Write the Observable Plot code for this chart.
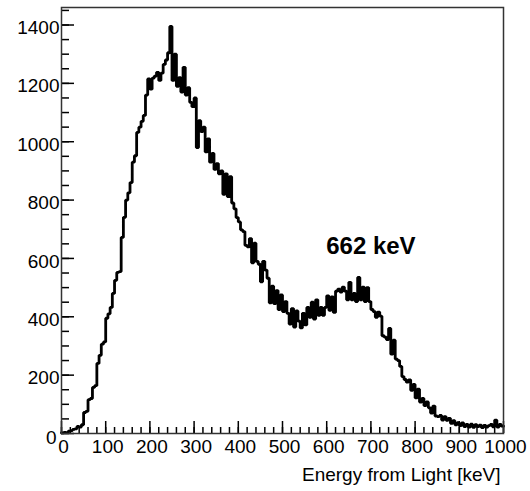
<!DOCTYPE html>
<html>
<head>
<meta charset="utf-8">
<script src="https://cdn.jsdelivr.net/npm/d3@7"></script>
<script src="https://cdn.jsdelivr.net/npm/@observablehq/plot@0.6"></script>
<style>
  html, body { margin: 0; padding: 0; background: #fff; }
  #chart svg { display: block; }
</style>
</head>
<body>
<div id="chart"></div>
<script>
// Histogram: 200 bins of 5 keV from 0 to 1000 keV (counts per bin)
const binWidth = 5;
const counts = [
  2, 4, 3, 8, 10, 14, 16, 24, 22, 30,            // 0-45
  72, 76, 116, 120, 158, 164, 240, 268, 306, 314, // 50-95
  395, 410, 432, 480, 525, 552, 555, 672, 741, 800, // 100-145
  825, 860, 930, 952, 1032, 1050, 1070, 1090, 1160, 1215, // 150-195
  1180, 1218, 1225, 1238, 1210, 1235, 1265, 1280, 1305, 1395, // 200-245
  1210, 1300, 1190, 1220, 1170, 1255, 1160, 1185, 1135, 1120, // 250-295
  1150, 980, 1072, 1035, 1050, 965, 1010, 930, 960, 905, // 300-345
  925, 890, 900, 820, 890, 812, 880, 790, 770, 740, // 350-395
  725, 698, 692, 645, 640, 668, 585, 652, 590, 580, // 400-445
  520, 590, 560, 532, 448, 505, 445, 490, 425, 475, // 450-495
  418, 452, 412, 375, 428, 365, 420, 385, 362, 412, // 500-545
  372, 432, 398, 450, 392, 458, 405, 432, 405, 432, // 550-595
  472, 422, 468, 415, 488, 495, 485, 502, 488, 458, // 600-645
  518, 458, 480, 452, 535, 458, 502, 452, 500, 452, // 650-695
  425, 418, 398, 416, 402, 335, 330, 322, 360, 272, // 700-745
  320, 255, 250, 230, 195, 185, 176, 184, 148, 168, // 750-795
  122, 152, 108, 120, 96, 108, 88, 70, 94, 60,     // 800-845
  58, 62, 46, 58, 45, 52, 35, 44, 30, 37,          // 850-895
  27, 36, 24, 31, 22, 32, 21, 30, 24, 29,          // 900-945
  20, 28, 22, 27, 31, 23, 46, 22, 31, 25           // 950-995
];
const binStarts = counts.map((_, i) => i * binWidth);

const xDomain = [0, 1000];
const yDomain = [0, 1460];
const xMajorTicks = d3.range(0, 1001, 100);
const xMinorTicks = d3.range(0, 1001, 20);
const yMajorTicks = d3.range(0, 1401, 200);
const yMinorTicks = d3.range(0, 1451, 50);

const xTitle = "Energy from Light [keV]";
const peakLabel = ["662 keV"];
const peakLabelEnergy = [700];
const peakLabelCount = [640];

// step outline points built from the bins
const steps = [];
binStarts.forEach((e, i) => {
  steps.push({e: e, c: counts[i]});
  steps.push({e: e + binWidth, c: counts[i]});
});

const W = 530, H = 491;
const mL = 61, mR = 27, mT = 7, mB = 58;
const fw = W - mL - mR, fh = H - mT - mB;
const font = "'Liberation Sans', Arial, Helvetica, sans-serif";

const chart = Plot.plot({
  width: W,
  height: H,
  marginLeft: mL,
  marginRight: mR,
  marginTop: mT,
  marginBottom: mB,
  style: {fontFamily: font, background: "#fff", color: "#000"},
  x: {domain: xDomain},
  y: {domain: yDomain},
  marks: [
    // minor and major ticks pointing inward
    Plot.tickY(yMinorTicks, {y: d => d, insetRight: fw - 8, stroke: "#000", strokeWidth: 1.5}),
    Plot.tickY(yMajorTicks, {y: d => d, insetRight: fw - 13, stroke: "#000", strokeWidth: 1.5}),
    Plot.tickX(xMinorTicks, {x: d => d, insetTop: fh - 6, stroke: "#000", strokeWidth: 1.5}),
    Plot.tickX(xMajorTicks, {x: d => d, insetTop: fh - 12, stroke: "#000", strokeWidth: 1.5}),
    Plot.axisY({ticks: yMajorTicks.filter(d => d > 0), tickSize: 0, tickPadding: 2, dy: 3, fontSize: 19, label: null, tickFormat: d => String(d)}),
    Plot.axisY({ticks: [0], tickSize: 0, tickPadding: 5, dy: 4, fontSize: 19, label: null, tickFormat: d => String(d)}),
    Plot.axisX({ticks: xMajorTicks, tickSize: 0, tickPadding: 6, dx: 2, fontSize: 19, label: null, tickFormat: d => String(d)}),
    Plot.line(steps, {x: "e", y: "c", stroke: "#000", strokeWidth: 2.8, strokeLinejoin: "miter"}),
    Plot.text(peakLabel, {x: (d, i) => peakLabelEnergy[i], y: (d, i) => peakLabelCount[i], text: d => d, fontSize: 24, fontWeight: "bold", fill: "#000"}),
    Plot.text([xTitle], {frameAnchor: "bottom-right", dy: 47, dx: -3, text: d => d, textAnchor: "end", lineAnchor: "bottom", fontSize: 19, fill: "#000"}),
    Plot.frame({stroke: "#333", strokeWidth: 1.5})
  ]
});
document.getElementById("chart").appendChild(chart);
</script>
</body>
</html>
